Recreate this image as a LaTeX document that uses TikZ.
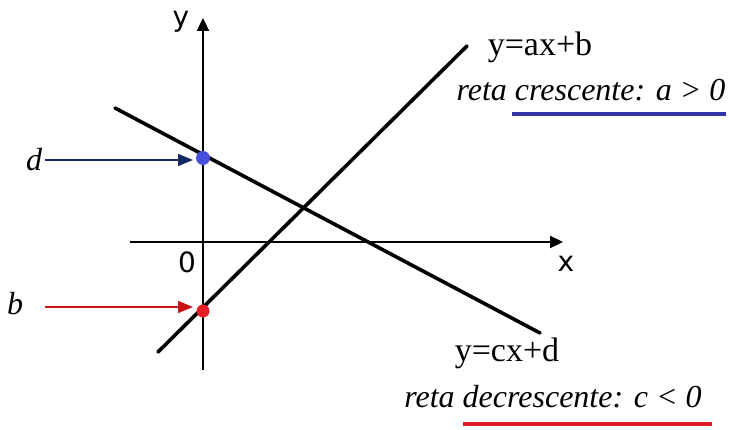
\documentclass[tikz,border=0pt]{standalone}
\usepackage{fontspec}
\setmainfont{Liberation Serif}
\newfontfamily\axfont{DejaVu Sans}
\usetikzlibrary{arrows.meta}
\begin{document}
\begin{tikzpicture}[x=1pt,y=-1pt,
  axis/.style={line width=2.3pt,-{Triangle[length=13pt,width=12pt]}},
  gline/.style={line width=3.6pt,line cap=round},
  ptr/.style={line width=1.4pt,-{Triangle[length=15pt,width=12pt]}},
  axlab/.style={font=\axfont\fontsize{28}{32}\selectfont,inner sep=0pt},
  eqlab/.style={font=\fontsize{34}{38}\selectfont,inner sep=0pt},
  itlab/.style={font=\itshape\fontsize{32}{36}\selectfont,inner sep=0pt}]
\useasboundingbox (0,0) rectangle (729,430);
% axes
\coordinate (xs) at (130,242);
\coordinate (xe) at (563,242);
\coordinate (ys) at (203,370);
\coordinate (ye) at (203,18);
\draw[axis] (xs) -- (xe);
\draw[axis] (ys) -- (ye);
\node[axlab] (ylab) at (181,22) {y};
\node[axlab] (xlab) at (566,264) {x};
\node[axlab] (zero) at (187,262) {0};
% lines
\coordinate (d1) at (115,108);
\coordinate (d2) at (540,333);
\coordinate (a1) at (158,352);
\coordinate (a2) at (467,46);
\draw[gline] (d1) -- (d2);
\draw[gline] (a1) -- (a2);
% intercept dots
\node[circle,fill={rgb,255:red,70;green,80;blue,220},inner sep=0pt,minimum size=14pt] (dpt) at (203,158) {};
\node[circle,fill={rgb,255:red,230;green,30;blue,40},inner sep=0pt,minimum size=13pt] (bpt) at (203,311) {};
% labels d,b
\node[itlab] (dlab) at (34,160) {d};
\node[itlab] (blab) at (15,304) {b};
\coordinate (dst) at (45,160);
\coordinate (dend) at (193,160);
\coordinate (bst) at (45,307);
\coordinate (bend) at (193,307);
\draw[ptr,draw={rgb,255:red,20;green,40;blue,100},fill={rgb,255:red,20;green,40;blue,100}] (dst) -- (dend);
\draw[ptr,draw={rgb,255:red,200;green,20;blue,20},fill={rgb,255:red,200;green,20;blue,20}] (bst) -- (bend);
% equations
\node[eqlab] (eqa) at (540,47) {y=ax+b};
\node[itlab] (ta) at (591,90) {reta crescente: a > 0};
\node[eqlab] (eqc) at (507,353) {y=cx+d};
\node[itlab] (tc) at (553,397) {reta decrescente: c < 0};
\coordinate (ua1) at (512,114);
\coordinate (ua2) at (726,114);
\coordinate (uc1) at (463,424);
\coordinate (uc2) at (712,424);
\draw[line width=3.5pt,color={rgb,255:red,50;green,50;blue,170}] (ua1) -- (ua2);
\draw[line width=3.5pt,color={rgb,255:red,220;green,30;blue,40}] (uc1) -- (uc2);
\end{tikzpicture}
\end{document}
